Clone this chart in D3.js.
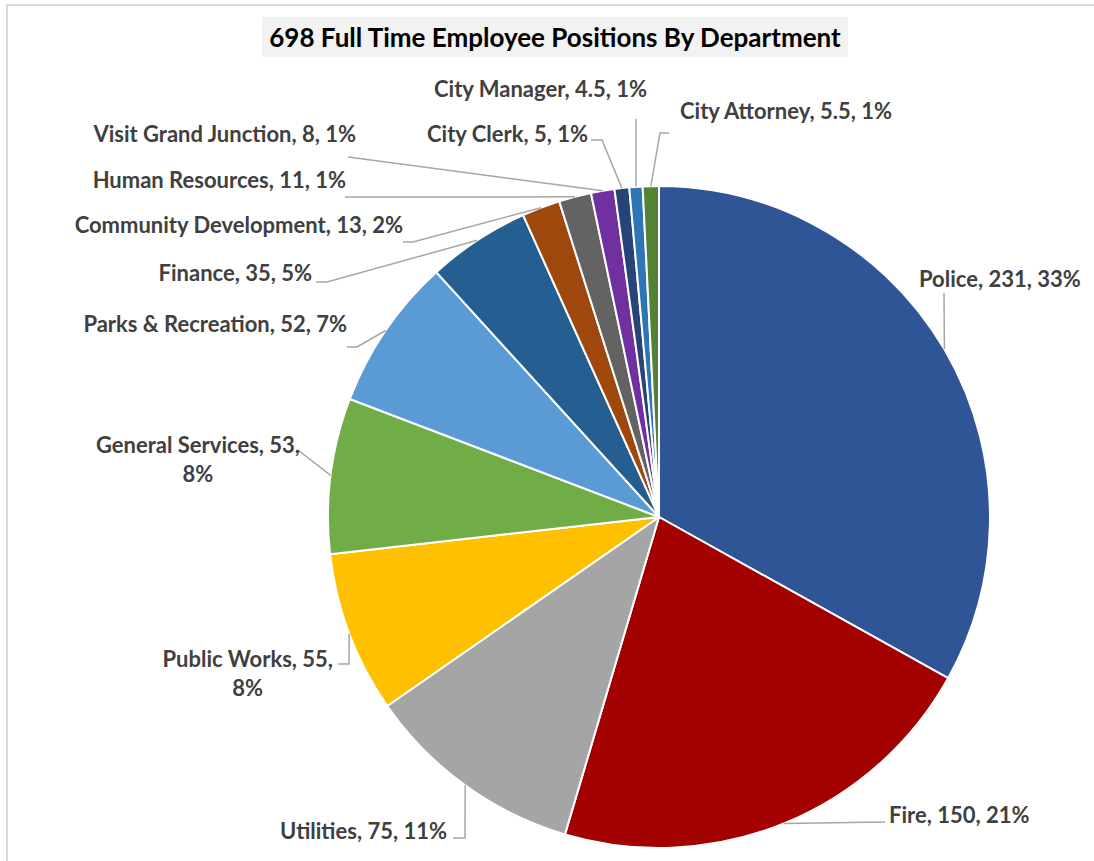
<!DOCTYPE html>
<html>
<head>
<meta charset="utf-8">
<script src="https://cdn.jsdelivr.net/npm/d3@7"></script>
<style>
  html, body { margin: 0; padding: 0; background: #ffffff; }
  svg { display: block; }
  text { font-family: Lato, "Open Sans", sans-serif; font-weight: 700; }
</style>
</head>
<body>
<svg id="chart" width="1094" height="861"></svg>
<script>
// Full time employee positions per department (clockwise from 12 o'clock)
const departments = [
  "Police", "Fire", "Utilities", "Public Works", "General Services",
  "Parks & Recreation", "Finance", "Community Development", "Human Resources",
  "Visit Grand Junction", "City Clerk", "City Manager", "City Attorney"
];
const positions = [231, 150, 75, 55, 53, 52, 35, 13, 11, 8, 5, 4.5, 5.5];
const percentLabels = ["33%", "21%", "11%", "8%", "8%", "7%", "5%", "2%", "1%", "1%", "1%", "1%", "1%"];
const totalPositions = 698;
const chartTitle = `${totalPositions} Full Time Employee Positions By Department`;

// Slice fills, same order as departments
const sliceColors = [
  "#2f5597", "#a30000", "#a5a5a5", "#ffc000", "#70ad47", "#5b9bd5",
  "#255e91", "#9e480e", "#636363", "#7030a0", "#264478", "#2e75b6", "#548235"
];

// Label placement: text anchor point, alignment, line breaks and leader path
// (leader points run from the label toward the slice; the last point on the
// slice edge is computed from the arc).
const labelLayout = {
  "Police":               { x: 919, y: 287, anchor: "start", lines: 1, leader: [[944, 293]] },
  "Fire":                 { x: 889, y: 823, anchor: "start", lines: 1, leader: [[885, 822]] },
  "Utilities":            { x: 447, y: 839, anchor: "end",   lines: 1, leader: [[453, 838], [465, 838]] },
  "Public Works":         { x: 333, y: 667, anchor: "end",   lines: 2, leader: [[338, 664], [349, 664]] },
  "General Services":     { x: 300, y: 453, anchor: "end",   lines: 2, leader: [[298, 450]] },
  "Parks & Recreation":   { x: 347, y: 332, anchor: "end",   lines: 1, leader: [[347, 347], [357, 347]] },
  "Finance":              { x: 312, y: 281, anchor: "end",   lines: 1, leader: [[316, 282], [327, 282]] },
  "Community Development":{ x: 403, y: 233, anchor: "end",   lines: 1, leader: [[403, 242], [413, 242]] },
  "Human Resources":      { x: 346, y: 188, anchor: "end",   lines: 1, leader: [[345, 197]] },
  "Visit Grand Junction": { x: 356, y: 142, anchor: "end",   lines: 1, leader: [[348, 157]] },
  "City Clerk":           { x: 588, y: 142, anchor: "end",   lines: 1, leader: [[591, 140], [602, 140]] },
  "City Manager":         { x: 434, y: 97,  anchor: "start", lines: 1, leader: [[636, 119]] },
  "City Attorney":        { x: 680, y: 119, anchor: "start", lines: 1, leader: [[669, 133], [660, 133]] }
};

const width = 1094, height = 861;
const cx = 659, cy = 517, radius = 331;
const labelSize = 22, titleSize = 26;

const svg = d3.select("#chart");

// Chart area frame (top and left edges)
svg.append("line").attr("x1", 6).attr("y1", 5).attr("x2", width).attr("y2", 5)
  .attr("stroke", "#d9d9d9").attr("stroke-width", 2);
svg.append("line").attr("x1", 7).attr("y1", 4).attr("x2", 7).attr("y2", height)
  .attr("stroke", "#d9d9d9").attr("stroke-width", 2);

// Title with light shaded box
const titleG = svg.append("g");
titleG.append("rect").attr("x", 262).attr("y", 17).attr("width", 586).attr("height", 40)
  .attr("fill", "#f2f2f2");
titleG.append("text").attr("x", 555).attr("y", 47).attr("text-anchor", "middle")
  .attr("font-size", titleSize).attr("fill", "#000000").text(chartTitle);

const data = departments.map((d, i) => ({
  name: d, value: positions[i], pct: percentLabels[i], color: sliceColors[i]
}));

const pie = d3.pie().sort(null).value(d => d.value).startAngle(0).endAngle(2 * Math.PI);
const arcs = pie(data);
const arc = d3.arc().innerRadius(0).outerRadius(radius);

const pieG = svg.append("g").attr("transform", `translate(${cx},${cy})`);
pieG.selectAll("path.slice").data(arcs).join("path")
  .attr("class", "slice")
  .attr("d", arc)
  .attr("fill", d => d.data.color)
  .attr("stroke", "#ffffff")
  .attr("stroke-width", 2)
  .attr("stroke-linejoin", "round");

// Leader lines from each label to the middle of its slice's outer edge
const leaderLine = d3.line();
const leaderG = svg.append("g");
arcs.forEach(a => {
  const lay = labelLayout[a.data.name];
  const mid = (a.startAngle + a.endAngle) / 2;
  const edge = [cx + radius * Math.sin(mid), cy - radius * Math.cos(mid)];
  leaderG.append("path")
    .attr("d", leaderLine([...lay.leader, edge]))
    .attr("fill", "none")
    .attr("stroke", "#a6a6a6")
    .attr("stroke-width", 1.5);
});

// Data labels: "Name, value, percent"
const labelG = svg.append("g");
arcs.forEach(a => {
  const lay = labelLayout[a.data.name];
  const t = labelG.append("text")
    .attr("font-size", labelSize)
    .attr("fill", "#404040")
    .attr("text-anchor", lay.anchor);
  if (lay.lines === 1) {
    t.attr("x", lay.x).attr("y", lay.y)
      .text(`${a.data.name}, ${a.data.value}, ${a.data.pct}`);
  } else {
    const first = `${a.data.name}, ${a.data.value},`;
    t.append("tspan").attr("x", lay.x).attr("y", lay.y).text(first);
    // second line centred under the first
    const tmp = labelG.append("text").attr("font-size", labelSize).text(first);
    const w = tmp.node().getComputedTextLength();
    tmp.remove();
    t.append("tspan").attr("x", lay.x - w / 2).attr("y", lay.y + 29)
      .attr("text-anchor", "middle").text(a.data.pct);
  }
});
</script>
</body>
</html>
